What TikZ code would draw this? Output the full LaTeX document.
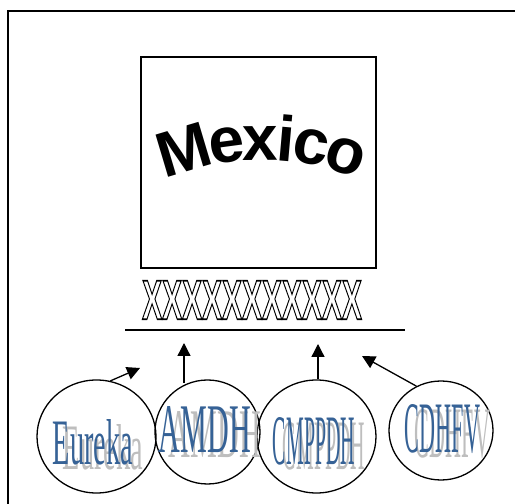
\documentclass[tikz,border=0pt]{standalone}
\usepackage{fontspec}
\usepackage{graphicx}
\usetikzlibrary{positioning, shapes.geometric, arrows.meta}

\setmainfont{Liberation Serif}
\newfontfamily\arialfont{Liberation Sans}

\definecolor{wordblue}{RGB}{54,98,150}
\definecolor{wordgray}{RGB}{190,190,190}

% blue word with a grey shadow behind it
\newcommand{\wordart}[3]{%
  \rlap{\hspace{10pt}\raisebox{-5pt}[0pt][0pt]{\color{wordgray}\resizebox{#1}{#2}{#3}}}%
  {\color{wordblue}\resizebox{#1}{#2}{#3}}}
% hollow letters
\newcommand{\hollow}[1]{\special{pdf:literal direct 1 Tr 1.6 w}#1\special{pdf:literal direct 0 Tr}}

\tikzset{
  ring/.style={draw, ellipse, line width=1.3pt, inner sep=0pt},
  word/.style={inner sep=0pt},
  arcletter/.style={inner sep=0pt, anchor=base, font=\arialfont\bfseries\fontsize{64}{64}\selectfont},
  push/.style={line width=1.3pt, -{Triangle[length=13pt,width=13pt]}}
}

\begin{document}
\begin{tikzpicture}[x=1pt,y=1pt]
  \useasboundingbox (0,0) rectangle (515,504);
  \draw[line width=1.4pt] (8,0) -- (8,493) -- (515,493);

  \node[draw, line width=1.2pt, minimum width=235pt, minimum height=211pt] (mexico) at (258.5,341.5) {};
  \coordinate (bend) at (262,92);
  \foreach \ch/\ang [count=\i] in {M/106.6, e/97.6, x/90.4, i/85.0, c/79.5, o/71.9}
    \path (bend) ++(\ang:252) node[arcletter, rotate=\ang-90] (mx\i) {\ch};

  \node[word] (fence) at (252,204) {%
    \scalebox{0.535}[1]{\arialfont\bfseries\fontsize{56}{56}\selectfont\hollow{XXXXXXXXXXX}}};

  \coordinate (floorl) at (125,174);
  \coordinate (floorr) at (405,174);
  \draw[line width=1.4pt] (floorl) -- (floorr);

  \node[ring, minimum width=119pt, minimum height=113pt] (eureka) at (96.5,67.5) {};
  \node[ring, minimum width=105pt, minimum height=104pt] (amdh) at (207.5,72) {};
  \node[ring, minimum width=119pt, minimum height=113pt] (cmppdh) at (316.5,67.5) {};
  \node[ring, minimum width=104pt, minimum height=99pt] (cdhfv) at (441,73.5) {};

  \node[word] (eurekatxt) at (93,61.5) {\wordart{80pt}{45pt}{Eureka}};
  \node[word] (amdhtxt) at (205,74) {\wordart{92pt}{46pt}{AMDH}};
  \node[word] (cmppdhtxt) at (314,62.5) {\wordart{82pt}{47pt}{CMPPDH}};
  \node[word] (cdhfvtxt) at (442.5,75) {\wordart{75pt}{48pt}{CDHFV}};

  \coordinate (t1) at (140,136);
  \coordinate (t2) at (184,161);
  \coordinate (t3) at (318,160);
  \coordinate (t4) at (362,148);
  \draw[push] (eureka.76) -- (t1);
  \draw[push] (t2 |- amdh.111) -- (t2);
  \draw[push] (t3 |- cmppdh.north) -- (t3);
  \draw[push] (cdhfv.119) -- (t4);
\end{tikzpicture}
\end{document}
